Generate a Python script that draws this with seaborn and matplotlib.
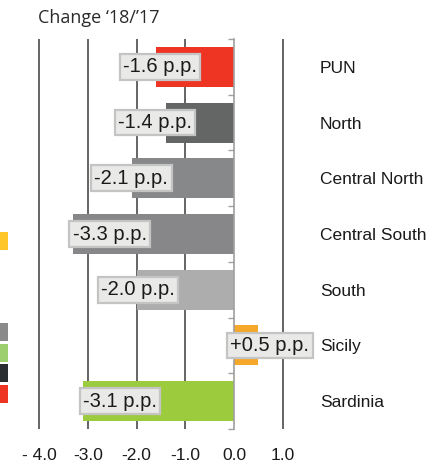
import matplotlib
matplotlib.use("Agg")
import matplotlib.pyplot as plt
from matplotlib.patches import Rectangle
import seaborn as sns
import pandas as pd
import numpy as np

# ---- data ----
regions = ["PUN", "North", "Central North", "Central South", "South", "Sicily", "Sardinia"]
changes = [-1.6, -1.4, -2.1, -3.3, -2.0, 0.5, -3.1]
bar_colors = ["#ee3524", "#646666", "#878889", "#87878a", "#adadad", "#f5a82a", "#9dcb3e"]
xticks = [-4.0, -3.0, -2.0, -1.0, 0.0, 1.0]
xtick_labels = ["- 4.0", "-3.0", "-2.0", "-1.0", "0.0", "1.0"]
title = "Change \u201818/\u201917"

# layout: x-centre of each value box (data units)
label_x = [-1.52, -1.62, -2.11, -2.55, -1.97, 0.74, -2.34]

W, H = 441, 465
fig = plt.figure(figsize=(W / 100, H / 100), dpi=100)
ax = fig.add_axes([19.7 / W, 36 / H, 280 / W, 390 / H])

df = pd.DataFrame({"region": regions, "change": changes})
sns.barplot(data=df, x="change", y="region", hue="region", palette=bar_colors,
            saturation=1, width=0.72, legend=False, ax=ax, zorder=2)

ax.set_xlim(-4.4, 1.35)
ax.set_ylim(6.5, -0.5)
ax.set_xlabel("")
ax.set_ylabel("")

# vertical gridlines
ax.set_xticks(xticks)
ax.set_xticklabels(xtick_labels, fontfamily="Liberation Sans", fontsize=12.5, color="#1a1a1a")
ax.tick_params(axis="x", length=0, pad=13.5)
ax.grid(axis="x", color="#4a4a4a", lw=1.2, zorder=0)
ax.grid(axis="y", visible=False)
ax.xaxis.get_gridlines()[4].set_visible(False)

for s in ["top", "right", "bottom"]:
    ax.spines[s].set_visible(False)
ax.spines["left"].set_position(("data", 0))
ax.spines["left"].set_color("#a0a0a0")
ax.spines["left"].set_linewidth(1.2)
ax.spines["left"].set_zorder(3)

ax.set_yticks(range(len(regions)))
ax.set_yticklabels(regions, fontfamily="Liberation Sans", fontsize=12.5, color="#1a1a1a")
for lbl in ax.get_yticklabels():
    lbl.set_y(lbl.get_position()[1])
ax.set_yticks(np.arange(-0.5, len(regions), 1.0), minor=True)
ax.tick_params(axis="y", which="major", left=False, right=True, labelleft=False,
               labelright=True, length=0, pad=14.4)
ax.tick_params(axis="y", which="minor", left=True, right=False, length=4,
               width=1, color="#a0a0a0")
ax.set_facecolor("white")

for i, (v, lx) in enumerate(zip(changes, label_x)):
    ax.text(lx, i, f"{v:+.1f} p.p.", ha="center", va="center",
            fontfamily="Liberation Sans", fontsize=14.5, color="#1a1a1a", zorder=5,
            bbox=dict(boxstyle="square,pad=0.17", facecolor="#e9e9e7",
                      edgecolor="#c4c4c4", linewidth=1.6))

fig.text(38 / W, 1 - 18 / H, title, fontfamily="Open Sans", fontsize=13,
         va="center", ha="left", color="#2a2a2a")

# cropped fragments of a neighbouring legend at the left edge
frags = [(232, 250, "#ffc629"), (323, 341, "#8a8a8a"), (344, 362, "#9dcf6e"),
         (364, 382, "#2b2e31"), (385, 403, "#ee3524")]
for y0, y1, c in frags:
    fig.add_artist(Rectangle((0, 1 - y1 / H), 8 / W, (y1 - y0) / H,
                             transform=fig.transFigure, color=c, lw=0))

fig.savefig("out.png", dpi=100)
